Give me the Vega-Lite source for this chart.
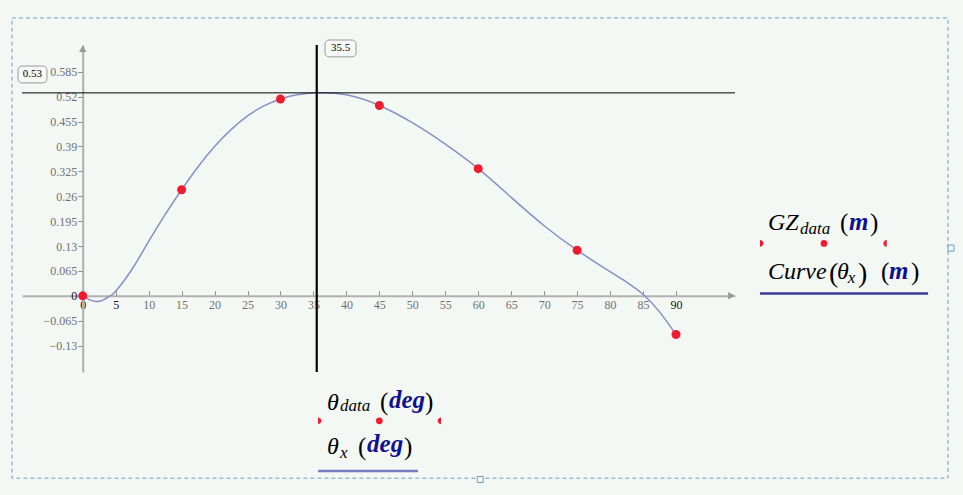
{
  "$schema": "https://vega.github.io/schema/vega-lite/v6.json",
  "autosize": "none",
  "width": 713,
  "height": 327,
  "padding": {"left": 22, "top": 45, "right": 228, "bottom": 123},
  "background": "#f4f8f5",
  "config": {"view": {"stroke": null}, "axis": {"grid": false}, "text": {"font": "Liberation Serif"}},
  "data": {"values": [{}]},
  "datasets": {
    "curve": [
      {"theta": 0, "gz": 0}, {"theta": 1, "gz": -0.010}, {"theta": 2, "gz": -0.015}, {"theta": 3, "gz": -0.012},
      {"theta": 4, "gz": -0.002}, {"theta": 5, "gz": 0.012}, {"theta": 7.5, "gz": 0.07}, {"theta": 10, "gz": 0.142},
      {"theta": 12.5, "gz": 0.212}, {"theta": 15, "gz": 0.277}, {"theta": 17.5, "gz": 0.337}, {"theta": 20, "gz": 0.390},
      {"theta": 22.5, "gz": 0.434}, {"theta": 25, "gz": 0.470}, {"theta": 27.5, "gz": 0.496}, {"theta": 30, "gz": 0.514},
      {"theta": 32.5, "gz": 0.525}, {"theta": 35.5, "gz": 0.530}, {"theta": 40, "gz": 0.525}, {"theta": 45, "gz": 0.497},
      {"theta": 50, "gz": 0.452}, {"theta": 55, "gz": 0.396}, {"theta": 60, "gz": 0.332}, {"theta": 65, "gz": 0.257},
      {"theta": 70, "gz": 0.183}, {"theta": 75, "gz": 0.119}, {"theta": 80, "gz": 0.063}, {"theta": 82.5, "gz": 0.036},
      {"theta": 85, "gz": 0.004}, {"theta": 87.5, "gz": -0.042}, {"theta": 90, "gz": -0.101}
    ],
    "points": [
      {"theta": 0, "gz": 0}, {"theta": 15, "gz": 0.277}, {"theta": 30, "gz": 0.514}, {"theta": 45, "gz": 0.497},
      {"theta": 60, "gz": 0.332}, {"theta": 75, "gz": 0.119}, {"theta": 90, "gz": -0.101}
    ]
  },
  "resolve": {"axis": {"x": "independent", "y": "independent"}},
  "layer": [
    {
      "mark": {"type": "rect", "fill": null, "stroke": "#6a9cc8", "strokeWidth": 1, "strokeDash": [4, 3]},
      "encoding": {
        "x": {"datum": -10.73, "type": "quantitative", "scale": {"domain": [-9.21, 98.95], "nice": false, "zero": false}, "axis": null},
        "x2": {"datum": 131.27},
        "y": {"datum": 0.7256, "type": "quantitative", "scale": {"domain": [-0.199, 0.655], "nice": false, "zero": false}, "axis": null},
        "y2": {"datum": -0.4763}
      }
    },
    {
      "data": {"values": [{"hx": 60.3, "hy": -0.4796}, {"hx": 131.72, "hy": 0.1246}]},
      "mark": {"type": "point", "shape": "square", "filled": false, "stroke": "#6a9cc8", "fill": "#f4f8f5", "strokeWidth": 1, "size": 36, "opacity": 1},
      "encoding": {"x": {"field": "hx", "type": "quantitative", "axis": null}, "y": {"field": "hy", "type": "quantitative", "axis": null}}
    },
    {
      "data": {"name": "curve"},
      "mark": {"type": "line", "color": "#8c8cc8", "strokeWidth": 1.5, "interpolate": "natural"},
      "encoding": {
        "x": {"field": "theta", "type": "quantitative",
          "axis": {"orient": "bottom", "offset": -76.3, "values": [0,5,10,15,20,25,30,35,40,45,50,55,60,65,70,75,80,85,90],
            "title": null, "domainColor": "#b0b0b0", "domainWidth": 2, "tickColor": "#909090", "tickSize": -5, "tickWidth": 1,
            "labelPadding": 9, "labelBaseline": "top", "labelFont": "Liberation Serif", "labelFontSize": 12,
            "labelColor": {"condition": {"test": "datum.value == 0 || datum.value == 5 || datum.value == 90", "value": "#111111"}, "value": "#707070"},
            "labelOverlap": false, "labelFlush": false}},
        "y": {"field": "gz", "type": "quantitative",
          "axis": {"orient": "left", "offset": -60.7, "values": [0.585,0.52,0.455,0.39,0.325,0.26,0.195,0.13,0.065,0,-0.065,-0.13],
            "format": ".3~f", "title": null, "domainColor": "#b0b0b0", "domainWidth": 2, "tickColor": "#909090", "tickSize": 5,
            "labelPadding": 1, "labelFont": "Liberation Serif", "labelFontSize": 12,
            "labelColor": {"condition": {"test": "datum.value == 0", "value": "#111111"}, "value": "#707070"},
            "labelOverlap": false, "labelFlush": false}}
      }
    },
    {
      "mark": {"type": "rule", "color": "#000000", "strokeWidth": 1},
      "encoding": {"y": {"datum": 0.53, "type": "quantitative", "axis": null}}
    },
    {
      "mark": {"type": "rule", "color": "#000000", "strokeWidth": 2.2},
      "encoding": {"x": {"datum": 35.5, "type": "quantitative", "axis": null}}
    },
    {
      "data": {"name": "points"},
      "mark": {"type": "circle", "color": "#ee1c2e", "opacity": 1, "size": 80},
      "encoding": {
        "x": {"field": "theta", "type": "quantitative", "axis": null},
        "y": {"field": "gz", "type": "quantitative", "axis": null}
      }
    },
    {
      "mark": {"type": "point", "shape": "triangle-right", "filled": true, "color": "#999999", "size": 55, "opacity": 1},
      "encoding": {"x": {"datum": 98.4, "type": "quantitative", "axis": null}, "y": {"datum": 0, "type": "quantitative", "axis": null}}
    },
    {
      "mark": {"type": "point", "shape": "triangle-up", "filled": true, "color": "#999999", "size": 55, "opacity": 1},
      "encoding": {"x": {"datum": 0, "type": "quantitative", "axis": null}, "y": {"datum": 0.645, "type": "quantitative", "axis": null}}
    },
    {
      "mark": {"type": "rect", "fill": "#f6f9f6", "stroke": "#999999", "strokeWidth": 1, "cornerRadius": 4},
      "encoding": {"x": {"datum": -9.81, "type": "quantitative", "axis": null}, "x2": {"datum": -5.42},
        "y": {"datum": 0.600, "type": "quantitative", "axis": null}, "y2": {"datum": 0.556}}
    },
    {
      "mark": {"type": "text", "text": "0.53", "fontSize": 11, "color": "#000000", "align": "center", "baseline": "middle"},
      "encoding": {"x": {"datum": -7.62, "type": "quantitative", "axis": null}, "y": {"datum": 0.578, "type": "quantitative", "axis": null}}
    },
    {
      "mark": {"type": "rect", "fill": "#f6f9f6", "stroke": "#999999", "strokeWidth": 1, "cornerRadius": 4},
      "encoding": {"x": {"datum": 36.76, "type": "quantitative", "axis": null}, "x2": {"datum": 41.46},
        "y": {"datum": 0.668, "type": "quantitative", "axis": null}, "y2": {"datum": 0.624}}
    },
    {
      "mark": {"type": "text", "text": "35.5", "fontSize": 11, "color": "#000000", "align": "center", "baseline": "middle"},
      "encoding": {"x": {"datum": 39.11, "type": "quantitative", "axis": null}, "y": {"datum": 0.646, "type": "quantitative", "axis": null}}
    },
    {
      "mark": {"type": "text", "text": "θ", "fontStyle": "italic", "fontSize": 24, "color": "#000000", "align": "left", "baseline": "alphabetic"},
      "encoding": {"x": {"datum": 37.06, "type": "quantitative", "axis": null}, "y": {"datum": -0.2987, "type": "quantitative", "axis": null}}
    },
    {
      "mark": {"type": "text", "text": "data", "fontStyle": "italic", "fontSize": 17, "color": "#000000", "align": "left", "baseline": "alphabetic"},
      "encoding": {"x": {"datum": 39.03, "type": "quantitative", "axis": null}, "y": {"datum": -0.3013, "type": "quantitative", "axis": null}}
    },
    {
      "mark": {"type": "text", "text": "(", "fontSize": 25, "color": "#000000", "align": "left", "baseline": "alphabetic"},
      "encoding": {"x": {"datum": 45.10, "type": "quantitative", "axis": null}, "y": {"datum": -0.2987, "type": "quantitative", "axis": null}}
    },
    {
      "mark": {"type": "text", "text": "deg", "fontStyle": "italic", "fontWeight": "bold", "fontSize": 25, "color": "#101090", "align": "left", "baseline": "alphabetic"},
      "encoding": {"x": {"datum": 46.46, "type": "quantitative", "axis": null}, "y": {"datum": -0.2934, "type": "quantitative", "axis": null}}
    },
    {
      "mark": {"type": "text", "text": ")", "fontSize": 25, "color": "#000000", "align": "left", "baseline": "alphabetic"},
      "encoding": {"x": {"datum": 51.92, "type": "quantitative", "axis": null}, "y": {"datum": -0.2987, "type": "quantitative", "axis": null}}
    },
    {
      "mark": {"type": "point", "shape": "M0,-1 A1,1 0 0,1 0,1 Z", "filled": true, "color": "#ee1c2e", "size": 45, "opacity": 1},
      "encoding": {"x": {"datum": 35.70, "type": "quantitative", "axis": null}, "y": {"datum": -0.3266, "type": "quantitative", "axis": null}}
    },
    {
      "mark": {"type": "circle", "color": "#ee1c2e", "size": 45, "opacity": 1},
      "encoding": {"x": {"datum": 45.0, "type": "quantitative", "axis": null}, "y": {"datum": -0.3266, "type": "quantitative", "axis": null}}
    },
    {
      "mark": {"type": "point", "shape": "M0,-1 A1,1 0 0,0 0,1 Z", "filled": true, "color": "#ee1c2e", "size": 45, "opacity": 1},
      "encoding": {"x": {"datum": 54.35, "type": "quantitative", "axis": null}, "y": {"datum": -0.3266, "type": "quantitative", "axis": null}}
    },
    {
      "mark": {"type": "text", "text": "θ", "fontStyle": "italic", "fontSize": 24, "color": "#000000", "align": "left", "baseline": "alphabetic"},
      "encoding": {"x": {"datum": 37.06, "type": "quantitative", "axis": null}, "y": {"datum": -0.4133, "type": "quantitative", "axis": null}}
    },
    {
      "mark": {"type": "text", "text": "x", "fontStyle": "italic", "fontSize": 17, "color": "#000000", "align": "left", "baseline": "alphabetic"},
      "encoding": {"x": {"datum": 39.03, "type": "quantitative", "axis": null}, "y": {"datum": -0.4237, "type": "quantitative", "axis": null}}
    },
    {
      "mark": {"type": "text", "text": "(", "fontSize": 25, "color": "#000000", "align": "left", "baseline": "alphabetic"},
      "encoding": {"x": {"datum": 41.76, "type": "quantitative", "axis": null}, "y": {"datum": -0.4163, "type": "quantitative", "axis": null}}
    },
    {
      "mark": {"type": "text", "text": "deg", "fontStyle": "italic", "fontWeight": "bold", "fontSize": 25, "color": "#101090", "align": "left", "baseline": "alphabetic"},
      "encoding": {"x": {"datum": 43.13, "type": "quantitative", "axis": null}, "y": {"datum": -0.4084, "type": "quantitative", "axis": null}}
    },
    {
      "mark": {"type": "text", "text": ")", "fontSize": 25, "color": "#000000", "align": "left", "baseline": "alphabetic"},
      "encoding": {"x": {"datum": 48.74, "type": "quantitative", "axis": null}, "y": {"datum": -0.4163, "type": "quantitative", "axis": null}}
    },
    {
      "mark": {"type": "rule", "color": "#7b7bbf", "strokeWidth": 2.5},
      "encoding": {"x": {"datum": 35.70, "type": "quantitative", "axis": null}, "x2": {"datum": 50.87}, "y": {"datum": -0.4573, "type": "quantitative", "axis": null}}
    },
    {
      "mark": {"type": "text", "text": "GZ", "fontStyle": "italic", "fontSize": 24, "color": "#000000", "align": "left", "baseline": "alphabetic"},
      "encoding": {"x": {"datum": 103.96, "type": "quantitative", "axis": null}, "y": {"datum": 0.1717, "type": "quantitative", "axis": null}}
    },
    {
      "mark": {"type": "text", "text": "data", "fontStyle": "italic", "fontSize": 17, "color": "#000000", "align": "left", "baseline": "alphabetic"},
      "encoding": {"x": {"datum": 108.81, "type": "quantitative", "axis": null}, "y": {"datum": 0.1612, "type": "quantitative", "axis": null}}
    },
    {
      "mark": {"type": "text", "text": "(", "fontSize": 25, "color": "#000000", "align": "left", "baseline": "alphabetic"},
      "encoding": {"x": {"datum": 114.89, "type": "quantitative", "axis": null}, "y": {"datum": 0.169, "type": "quantitative", "axis": null}}
    },
    {
      "mark": {"type": "text", "text": "m", "fontStyle": "italic", "fontWeight": "bold", "fontSize": 25, "color": "#101090", "align": "left", "baseline": "alphabetic"},
      "encoding": {"x": {"datum": 116.25, "type": "quantitative", "axis": null}, "y": {"datum": 0.1717, "type": "quantitative", "axis": null}}
    },
    {
      "mark": {"type": "text", "text": ")", "fontSize": 25, "color": "#000000", "align": "left", "baseline": "alphabetic"},
      "encoding": {"x": {"datum": 119.43, "type": "quantitative", "axis": null}, "y": {"datum": 0.169, "type": "quantitative", "axis": null}}
    },
    {
      "mark": {"type": "point", "shape": "M0,-1 A1,1 0 0,1 0,1 Z", "filled": true, "color": "#ee1c2e", "size": 45, "opacity": 1},
      "encoding": {"x": {"datum": 102.74, "type": "quantitative", "axis": null}, "y": {"datum": 0.1369, "type": "quantitative", "axis": null}}
    },
    {
      "mark": {"type": "circle", "color": "#ee1c2e", "size": 45, "opacity": 1},
      "encoding": {"x": {"datum": 112.45, "type": "quantitative", "axis": null}, "y": {"datum": 0.1369, "type": "quantitative", "axis": null}}
    },
    {
      "mark": {"type": "point", "shape": "M0,-1 A1,1 0 0,0 0,1 Z", "filled": true, "color": "#ee1c2e", "size": 45, "opacity": 1},
      "encoding": {"x": {"datum": 121.97, "type": "quantitative", "axis": null}, "y": {"datum": 0.1369, "type": "quantitative", "axis": null}}
    },
    {
      "mark": {"type": "text", "text": "Curve", "fontStyle": "italic", "fontSize": 24, "color": "#000000", "align": "left", "baseline": "alphabetic"},
      "encoding": {"x": {"datum": 103.96, "type": "quantitative", "axis": null}, "y": {"datum": 0.0436, "type": "quantitative", "axis": null}}
    },
    {
      "mark": {"type": "text", "text": "(", "fontSize": 28, "color": "#000000", "align": "left", "baseline": "alphabetic"},
      "encoding": {"x": {"datum": 113.22, "type": "quantitative", "axis": null}, "y": {"datum": 0.0358, "type": "quantitative", "axis": null}}
    },
    {
      "mark": {"type": "text", "text": "θ", "fontStyle": "italic", "fontSize": 24, "color": "#000000", "align": "left", "baseline": "alphabetic"},
      "encoding": {"x": {"datum": 114.44, "type": "quantitative", "axis": null}, "y": {"datum": 0.0436, "type": "quantitative", "axis": null}}
    },
    {
      "mark": {"type": "text", "text": "x", "fontStyle": "italic", "fontSize": 17, "color": "#000000", "align": "left", "baseline": "alphabetic"},
      "encoding": {"x": {"datum": 116.05, "type": "quantitative", "axis": null}, "y": {"datum": 0.0332, "type": "quantitative", "axis": null}}
    },
    {
      "mark": {"type": "text", "text": ")", "fontSize": 28, "color": "#000000", "align": "left", "baseline": "alphabetic"},
      "encoding": {"x": {"datum": 117.61, "type": "quantitative", "axis": null}, "y": {"datum": 0.0358, "type": "quantitative", "axis": null}}
    },
    {
      "mark": {"type": "text", "text": "(", "fontSize": 25, "color": "#000000", "align": "left", "baseline": "alphabetic"},
      "encoding": {"x": {"datum": 121.11, "type": "quantitative", "axis": null}, "y": {"datum": 0.041, "type": "quantitative", "axis": null}}
    },
    {
      "mark": {"type": "text", "text": "m", "fontStyle": "italic", "fontWeight": "bold", "fontSize": 25, "color": "#101090", "align": "left", "baseline": "alphabetic"},
      "encoding": {"x": {"datum": 122.33, "type": "quantitative", "axis": null}, "y": {"datum": 0.0436, "type": "quantitative", "axis": null}}
    },
    {
      "mark": {"type": "text", "text": ")", "fontSize": 25, "color": "#000000", "align": "left", "baseline": "alphabetic"},
      "encoding": {"x": {"datum": 125.65, "type": "quantitative", "axis": null}, "y": {"datum": 0.041, "type": "quantitative", "axis": null}}
    },
    {
      "mark": {"type": "rule", "color": "#3c3c99", "strokeWidth": 2.5},
      "encoding": {"x": {"datum": 102.74, "type": "quantitative", "axis": null}, "x2": {"datum": 128.24}, "y": {"datum": 0.0063, "type": "quantitative", "axis": null}}
    }
  ]
}
